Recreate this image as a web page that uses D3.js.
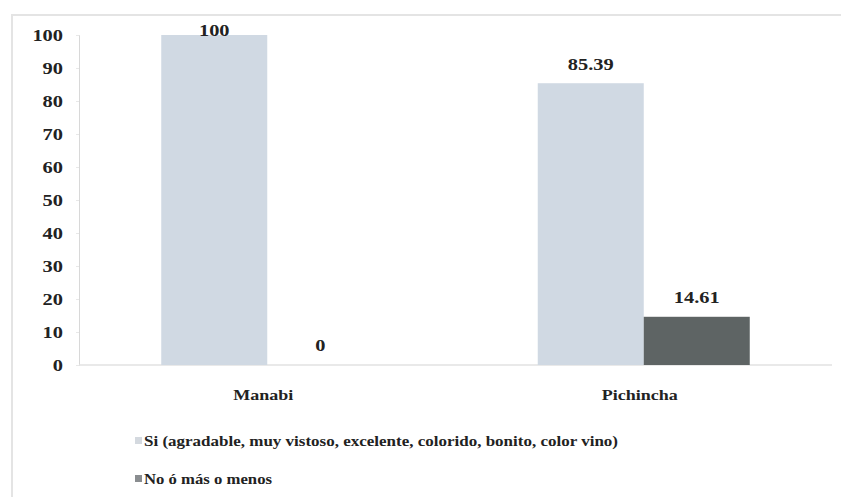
<!DOCTYPE html>
<html>
<head>
<meta charset="utf-8">
<script src="https://cdn.jsdelivr.net/npm/d3@7"></script>
<style>
  html, body { margin: 0; padding: 0; background: #ffffff; }
  svg { display: block; }
</style>
</head>
<body>
<svg id="chart" width="841" height="497"></svg>
<script>
// Provinces and responses (percent)
const categories = ["Manabi", "Pichincha"];
const seriesNames = [
  "Si (agradable, muy vistoso, excelente, colorido, bonito, color vino)",
  "No ó más o menos"
];
const siValues = [100, 85.39];
const noValues = [0, 14.61];
const yTicks = [0, 10, 20, 30, 40, 50, 60, 70, 80, 90, 100];

const colors = ["#d0d9e3", "#5e6464"];
const legendSwatch = ["#d4d9df", "#8a8d90"];
const FONT = "'Liberation Serif', 'Times New Roman', Times, serif";

const svg = d3.select("#chart");
const W = 841, H = 497;
const plot = { left: 79, right: 832, top: 35, bottom: 365 };

// Outer frame (top and left edges visible)
svg.append("path")
  .attr("d", `M12,${H} L12,15 L${W},15`)
  .attr("fill", "none").attr("stroke", "#e4e4e4").attr("stroke-width", 2);

const x0 = d3.scaleBand().domain(categories).range([plot.left, plot.right]).paddingInner(0).paddingOuter(0);
const x1 = d3.scaleBand().domain([0, 1]).range([0, 212]);
const y = d3.scaleLinear().domain([0, 100]).range([plot.bottom, plot.top]);

// Horizontally widened bold serif text
function stretched(g, x, yy, str, size, anchor) {
  return g.append("text")
    .attr("transform", `translate(${x},${yy}) scale(1.2,1)`)
    .attr("text-anchor", anchor || "middle")
    .attr("font-family", FONT)
    .attr("font-weight", "bold")
    .attr("fill", "#222")
    .attr("font-size", size)
    .text(str);
}

// Y axis
const yAxis = d3.axisLeft(y).tickValues(yTicks).tickSize(3).tickFormat("");
const yg = svg.append("g").attr("transform", `translate(${plot.left},0)`).call(yAxis);
yg.select(".domain").attr("stroke", "#d8d8d8");
yg.selectAll(".tick line").attr("stroke", "#e8e8e8");
yTicks.forEach(t => stretched(svg, 63, y(t) + 6, String(t), 17, "end"));

// Baseline
svg.append("line")
  .attr("x1", plot.left).attr("x2", plot.right)
  .attr("y1", y(0)).attr("y2", y(0))
  .attr("stroke", "#e2e2e2").attr("stroke-width", 1.5);

// Bars
const series = [siValues, noValues];
categories.forEach((c, i) => {
  const gx = x0(c) + (x0.bandwidth() - 212) / 2;
  series.forEach((vals, s) => {
    const v = vals[i];
    const bx = gx + x1(s);
    if (v > 0) {
      svg.append("rect")
        .attr("x", bx).attr("y", y(v))
        .attr("width", x1.bandwidth()).attr("height", y(0) - y(v))
        .attr("fill", colors[s]);
    }
  });
});

// Value labels
const labelPos = [
  { s: 0, i: 0, dy: 1 },
  { s: 1, i: 0, dy: -14 },
  { s: 0, i: 1, dy: -13 },
  { s: 1, i: 1, dy: -14 }
];
labelPos.forEach(p => {
  const v = series[p.s][p.i];
  const gx = x0(categories[p.i]) + (x0.bandwidth() - 212) / 2;
  const cx = gx + x1(p.s) + x1.bandwidth() / 2;
  stretched(svg, cx, y(v) + p.dy, String(v), 17, "middle");
});

// Category labels
categories.forEach(c => {
  stretched(svg, x0(c) + x0.bandwidth() / 2 - 4, 400, c, 15, "middle");
});

// Legend
const legendY = [441, 479];
const legendW = [474, 128];
seriesNames.forEach((name, s) => {
  svg.append("rect")
    .attr("x", 135).attr("y", legendY[s] - 4)
    .attr("width", 7).attr("height", 7)
    .attr("fill", legendSwatch[s]);
  svg.append("text")
    .attr("x", 144).attr("y", legendY[s] + 5)
    .attr("font-family", FONT)
    .attr("font-weight", "bold")
    .attr("fill", "#222")
    .attr("font-size", 15)
    .attr("textLength", legendW[s])
    .attr("lengthAdjust", "spacingAndGlyphs")
    .text(name);
});
</script>
</body>
</html>
